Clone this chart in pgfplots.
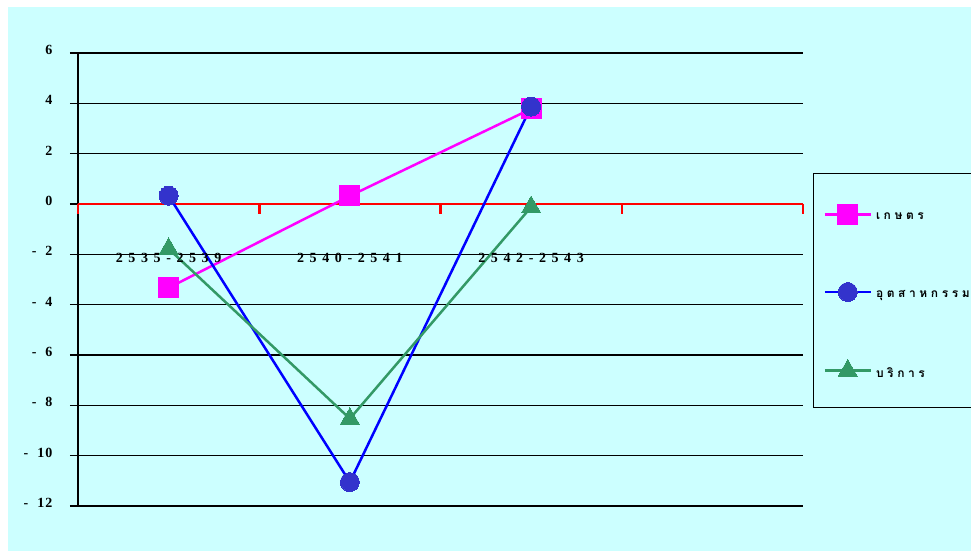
\documentclass[border=0pt]{standalone}
\usepackage{pgfplots}
\pgfplotsset{compat=1.18}
\usepackage{fontspec}
\setmainfont{Liberation Serif}
\newfontfamily\numfont[LetterSpace=40]{Liberation Serif}
\newfontfamily\tickfont[LetterSpace=8]{Liberation Serif}
\newfontfamily\thaifont[Script=Thai,LetterSpace=30]{Loma}
\definecolor{bgc}{HTML}{CCFFFF}
\definecolor{mag}{HTML}{FF00FF}
\definecolor{bl}{HTML}{0000FF}
\definecolor{blf}{HTML}{3333CC}
\definecolor{gr}{HTML}{339966}
\newcommand{\mn}[1]{-\hspace{9pt}#1}
\newcommand{\legtxt}[1]{\hspace{2pt}\raisebox{-5pt}{#1}}
\begin{document}
\begin{tikzpicture}[x=1pt,y=1pt]
\path[use as bounding box, fill=white] (-78,-46) rectangle (893,506);
\fill[bgc] (-70,-45) rectangle (893,499);
\begin{axis}[
  at={(0,0)}, anchor=south west,
  scale only axis, width=725pt, height=453pt,
  xmin=0, xmax=4, ymin=-12, ymax=6,
  axis x line=none,
  axis y line*=left,
  y axis line style={line width=1.3pt,-},
  ytick={-12,-10,...,6},
  yticklabels={\mn{12},\mn{10},\mn{8},\mn{6},\mn{4},\mn{2},0,2,4,6},
  ymajorgrids,
  grid style={black,line width=1.1pt},
  tick align=outside,
  major tick length=8pt,
  major tick style={black,line width=1.1pt},
  yticklabel style={font=\tickfont\bfseries\fontsize{14}{14}\selectfont,anchor=east,xshift=-14pt,yshift=3pt},
  clip=false,
  legend style={at={(1.0138,0.735)},anchor=north west,draw=black,line width=1pt,fill=none,
    font=\thaifont\bfseries\fontsize{12}{12}\selectfont,row sep=58pt,inner xsep=10pt,inner ysep=31pt,
    nodes={text width=120pt}},
  legend cell align=left,
  legend image code/.code={\draw[mark repeat=2,mark phase=2,line width=2.5pt] plot coordinates {(0pt,0pt) (23pt,0pt) (46pt,0pt)};},
]
\draw[red,line width=2.5pt] (axis cs:0,0) -- (axis cs:4,0);
\draw[red,line width=2.5pt] (axis cs:0,0) -- ++(0pt,-10pt);
\draw[red,line width=2.5pt] (axis cs:1,0) -- ++(0pt,-10pt);
\draw[red,line width=2.5pt] (axis cs:2,0) -- ++(0pt,-10pt);
\draw[red,line width=2.5pt] (axis cs:3,0) -- ++(0pt,-10pt);
\draw[red,line width=2.5pt] (axis cs:4,0) -- ++(0pt,-10pt);
\addplot[mag,line width=2.5pt,mark=square*,mark size=10pt,mark options={fill=mag,draw=mag,line width=0pt}] coordinates {(0.5,-3.33) (1.5,0.32) (2.5,3.78)};
\addlegendentry{\legtxt{เกษตร}}
\addplot[bl,line width=2.5pt,mark=*,mark size=9.5pt,mark options={fill=blf,draw=blf,line width=0pt}] coordinates {(0.5,0.33) (1.5,-11.05) (2.5,3.87)};
\addlegendentry{\legtxt{อุตสาหกรรม}}
\addplot[gr,line width=2.5pt,mark=triangle*,mark size=11pt,mark options={fill=gr,draw=gr,line width=0pt}] coordinates {(0.5,-1.78) (1.5,-8.53) (2.5,-0.12)};
\addlegendentry{\legtxt{บริการ}}
\node[font=\numfont\bfseries\fontsize{14}{14}\selectfont] at (axis cs:0.5,-2.15) {2535-2539};
\node[font=\numfont\bfseries\fontsize{14}{14}\selectfont] at (axis cs:1.5,-2.15) {2540-2541};
\node[font=\numfont\bfseries\fontsize{14}{14}\selectfont] at (axis cs:2.5,-2.15) {2542-2543};
\end{axis}
\end{tikzpicture}
\end{document}
